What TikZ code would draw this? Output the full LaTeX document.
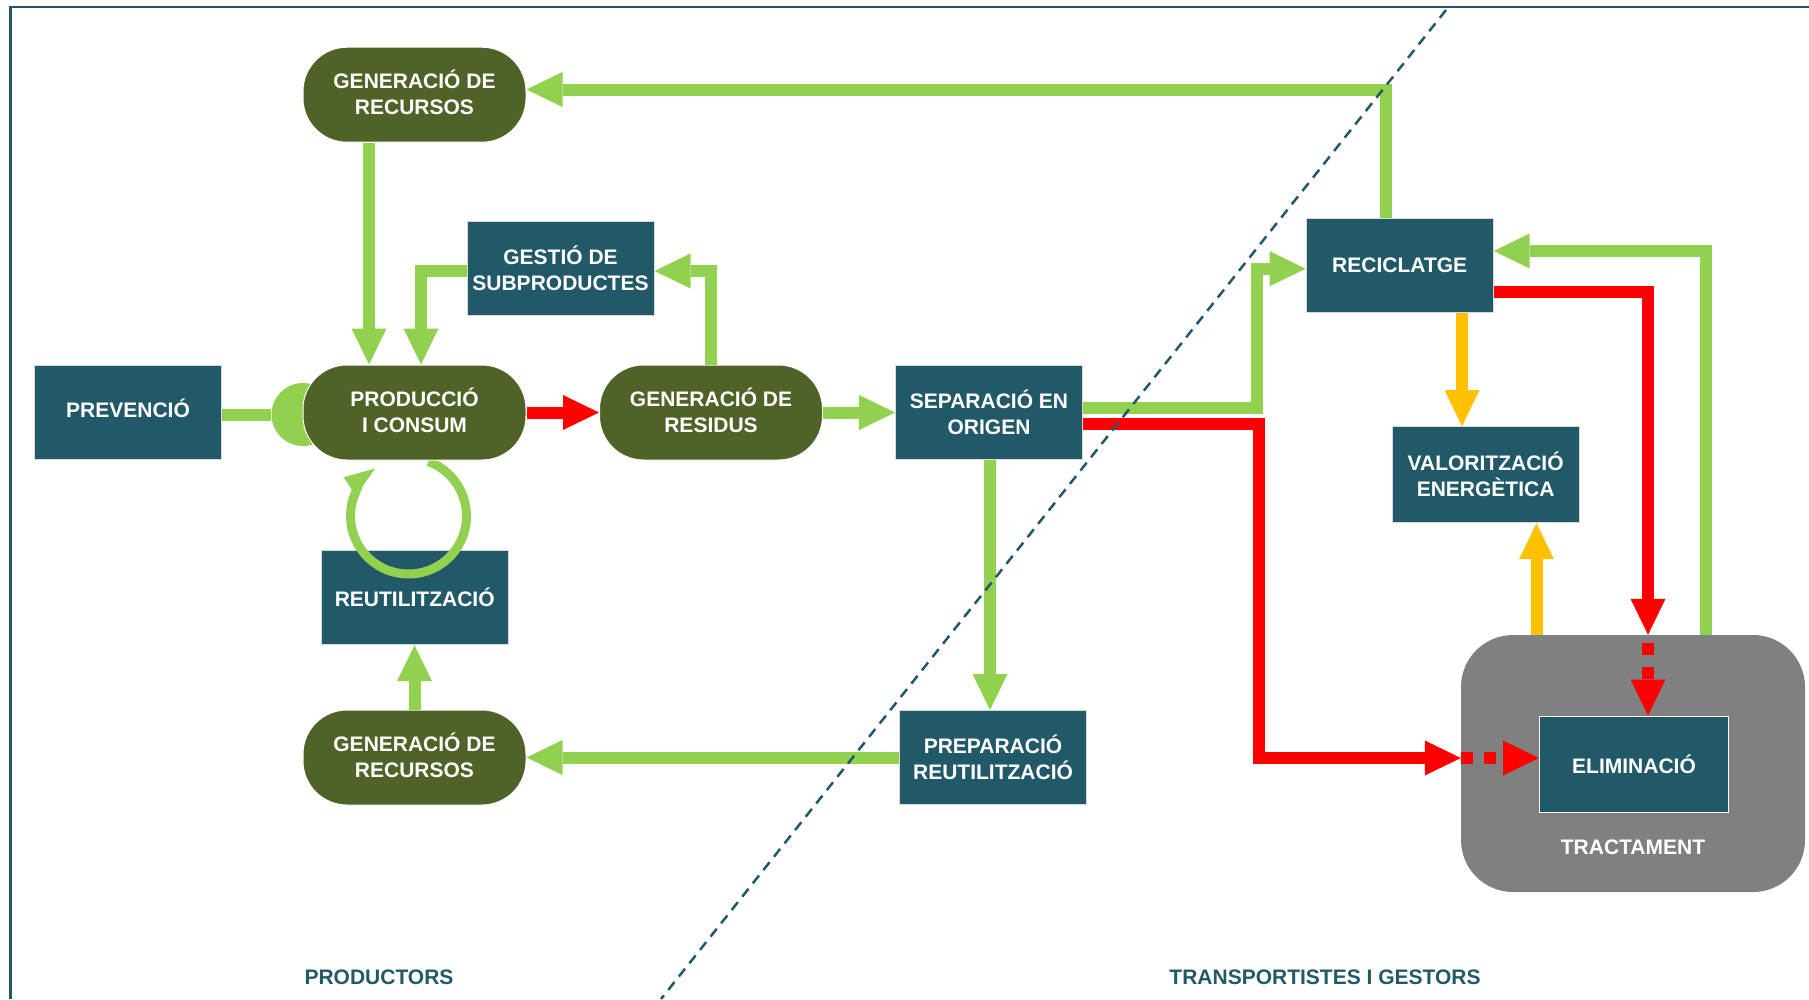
\documentclass[tikz,border=0pt]{standalone}
\usepackage{fontspec}
\setmainfont{Liberation Sans}
\usetikzlibrary{arrows.meta,calc}
\definecolor{boxteal}{HTML}{215968}
\definecolor{olive}{HTML}{4F6228}
\definecolor{lgreen}{HTML}{92D050}
\definecolor{flowred}{HTML}{FF0000}
\definecolor{amber}{HTML}{FFC000}
\definecolor{treatgray}{HTML}{808080}
\begin{document}
\begin{tikzpicture}[x=1pt,y=-1pt,
  lbl/.style={font=\fontsize{21}{26}\selectfont\bfseries, text=white, align=center, inner sep=0pt},
  tbox/.style={lbl, rectangle, fill=boxteal, draw=white!85!black, line width=1pt,
    minimum width=187pt, minimum height=94pt},
  pill/.style={lbl, rectangle, rounded corners=44pt, fill=olive, draw=white, line width=1pt,
    minimum width=223pt, minimum height=95pt, text height=40.5pt},
  flow/.style={line width=12pt, line join=miter,
    -{Triangle[length=36pt,width=35pt,line width=0pt]}},
  gflow/.style={flow, draw=lgreen},
  rflow/.style={flow, draw=flowred},
  oflow/.style={flow, draw=amber},
  rdash/.style={flow, draw=flowred, dash pattern=on 12pt off 11pt},
  side/.style={font=\fontsize{21}{26}\selectfont\bfseries, text=boxteal, inner sep=0pt}
]
\useasboundingbox (0,0) rectangle (1809,999);

% frame
\draw[boxteal, line width=2.5pt] (10.5,999) -- (10.5,7) -- (1809,7);

% reuse box and the stop disc sit below the loop and the production pill
\node[tbox] (reut) at (414.7,597.7) {REUTILITZACIÓ};
\node[circle, fill=lgreen, minimum size=63pt, inner sep=0pt] (stop) at (303,414.5) {};
\coordinate (loopc) at (408.5,516);
\draw[lgreen, line width=9pt, -{Triangle[length=31pt,width=22pt,line width=0pt]}]
  (loopc) ++(-70:58) arc[start angle=-70, end angle=235, radius=58];

% producers side
\node[pill] (genA) at (414.5,94.7) {GENERACIÓ DE\\RECURSOS};
\node[tbox] (gest) at (560.5,268) {GESTIÓ DE\\SUBPRODUCTES};
\node[tbox, text height=11pt] (prev) at (128,412.5) {PREVENCIÓ};
\node[pill] (prod) at (414.5,412.5) {PRODUCCIÓ\\I CONSUM};
\node[pill] (genR) at (711,412.5) {GENERACIÓ DE\\RESIDUS};
\node[tbox] (sep) at (989,412.5) {SEPARACIÓ EN\\ORIGEN};
\node[pill] (genB) at (414.5,757.5) {GENERACIÓ DE\\RECURSOS};
\node[tbox] (prep) at (993,757.5) {PREPARACIÓ\\REUTILITZACIÓ};

% carriers and managers side
\node[tbox] (recic) at (1399.7,265.7) {RECICLATGE};
\node[tbox, minimum height=96pt] (valor) at (1485.6,474.7) {VALORITZACIÓ\\ENERGÈTICA};
\node[rectangle, rounded corners=52pt, fill=treatgray, minimum width=344pt,
  minimum height=257pt, inner sep=0pt] (treat) at (1633,763.5) {};
\node[tbox, draw=white, minimum width=189pt, minimum height=96pt] (elim) at (1634,764) {ELIMINACIÓ};
\node[lbl] (treatlbl) at (1633,847) {TRACTAMENT};

% flows
\draw[lgreen, line width=12pt] (prev.east |- stop.west) -- (stop.west);
\draw[gflow] ([xshift=-45.5pt]genA.south) -- ([xshift=-45.5pt]prod.north);
\draw[gflow] ($(gest.west)+(0,3)$) -| ([xshift=6.5pt]prod.north);
\draw[gflow] (genR.north) |- ($(gest.east)+(0,3)$);
\draw[rflow] (prod.east) -- (genR.west);
\draw[gflow] (genR.east) -- (sep.west);
\draw[gflow] ($(sep.east)+(0,-5)$) -| ($(recic.west)+(-48.5,3)$) -- ($(recic.west)+(0,3)$);
\draw[rflow] ($(sep.east)+(0,11.5)$) -| ($(treat.west)+(-202,-5.5)$) -- ($(treat.west)+(0,-5.5)$);
\draw[rdash] ($(treat.west)+(0,-5.5)$) -- ($(elim.west)+(0,-6)$);
\draw[rflow] ($(recic.east)+(0,26.3)$) -| ([xshift=15pt]treat.north);
\draw[rdash, dash pattern=on 12pt off 12pt, dash phase=16pt] ([xshift=15pt]treat.north) -- ([xshift=14pt]elim.north);
\coordinate (o1) at ([xshift=62.3pt]recic.south);
\draw[oflow] (o1) -- (o1 |- valor.north);
\coordinate (o2) at ([xshift=-96.5pt]treat.north);
\draw[oflow] (o2) -- (o2 |- valor.south);
\draw[gflow] ([xshift=73pt]treat.north) |- ($(recic.east)+(0,-14.7)$);
\draw[gflow] ([xshift=-13.7pt]recic.north) |- ($(genA.east)+(0,-5.2)$);
\coordinate (s1) at ([xshift=1pt]sep.south);
\draw[gflow] (s1) -- (s1 |- prep.north);
\draw[gflow] (prep.west) -- (prep.west -| genB.east);
\draw[gflow] (genB.north) -- (genB.north |- reut.south);

% divider between the two sides
\coordinate (divtop) at (1446,10);
\coordinate (divbot) at (661,999);
\draw[boxteal, line width=2.5pt, dash pattern=on 10pt off 7pt] (divtop) -- (divbot);

% side captions
\node[side] (lprod) at (379,977) {PRODUCTORS};
\node[side] (lgest) at (1325,977) {TRANSPORTISTES I GESTORS};
\end{tikzpicture}
\end{document}
